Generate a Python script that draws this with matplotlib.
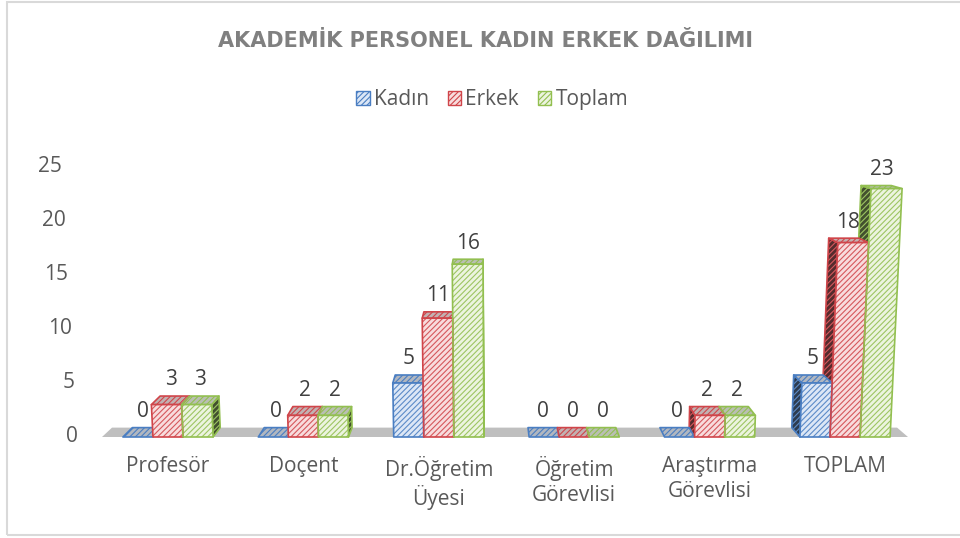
import matplotlib
matplotlib.use('Agg')
import matplotlib.pyplot as plt
from matplotlib.patches import Polygon, Rectangle, Patch
from matplotlib.colors import to_rgb

# ---------------- data ----------------
categories = ['Profesör', 'Doçent', 'Dr.Öğretim\nÜyesi', 'Öğretim\nGörevlisi',
              'Araştırma\nGörevlisi', 'TOPLAM']
series_names = ['Kadın', 'Erkek', 'Toplam']
kadin = [0, 0, 5, 0, 0, 5]
erkek = [3, 2, 11, 0, 2, 18]
toplam = [3, 2, 16, 0, 2, 23]
y_ticks = [0, 5, 10, 15, 20, 25]
title = 'AKADEMİK PERSONEL KADIN ERKEK DAĞILIMI'

series_values = [kadin, erkek, toplam]
colors = ['#4A7EC2', '#D0454A', '#92BF50']
fills = ['#DCE7F6', '#F8DCDD', '#ECF4DF']

plt.rcParams['font.family'] = ['Open Sans', 'DejaVu Sans']
plt.rcParams['hatch.linewidth'] = 0.8
HATCH = '//////'
FS = 15

W, H, DPI = 960, 538, 100
fig = plt.figure(figsize=(W / DPI, H / DPI), dpi=DPI)

# layout: data units mapped onto the figure pixels
X0_PX, SX = 168, 135.4      # category 0 at x=168px, 135.4 px per category
Y0_PX, SY = 437, 10.8       # value 0 at y=437px, 10.8 px per unit
ax = fig.add_axes([0, 0, 1, 1])
ax.set_xlim(-X0_PX / SX, (W - X0_PX) / SX)
ax.set_ylim(-(H - Y0_PX) / SY, Y0_PX / SY)
ax.axis('off')

# simple perspective (imitating Excel 3-D columns)
LEAN = 0.001426
XL = (524 - X0_PX) / SX
K = 0.026
XV = (487 - X0_PX) / SX
KY = 0.0255
YV = (Y0_PX - 69) / SY


def proj(x, y, z):
    xl = x + LEAN * (x - XL) * y
    return (xl + z * K * (XV - xl), y + z * KY * (YV - y))


def mix(c1, c2, t):
    a, b = to_rgb(c1), to_rgb(c2)
    return tuple(a[i] * (1 - t) + b[i] * t for i in range(3))


def face(pts, fill, hatch_col, edge, z, lw=1.2):
    ax.add_patch(Polygon(pts, closed=True, facecolor=fill, edgecolor=hatch_col,
                         hatch=HATCH, linewidth=0, zorder=z))
    ax.add_patch(Polygon(pts, closed=True, fill=False, edgecolor=edge,
                         linewidth=lw, zorder=z + 0.01, joinstyle='round'))


# floor
FL_A, FL_B = (102 - X0_PX) / SX, (908 - X0_PX) / SX
ax.add_patch(Polygon([proj(FL_A, 0, 0), proj(FL_B, 0, 0), proj(FL_B, 0, 1), proj(FL_A, 0, 1)],
                     closed=True, facecolor='#BFBFBF', edgecolor='none', zorder=1))

BW = 0.222
for i in range(len(categories)):
    for j, vals in enumerate(series_values):
        h = vals[i]
        c = colors[j]
        xa = i + (j - 1) * BW - BW / 2
        xb = xa + BW
        xc = (xa + xb) / 2
        # side face
        xs = xb if xc < XV else xa
        if h > 0:
            face([proj(xs, 0, 0), proj(xs, h, 0), proj(xs, h, 1), proj(xs, 0, 1)],
                 mix(c, '#202020', 0.7), mix(c, '#FFFFFF', 0.1), c, 2 + i * 0.01)
        # top face
        face([proj(xa, h, 0), proj(xb, h, 0), proj(xb, h, 1), proj(xa, h, 1)],
             mix(fills[j], '#707070', 0.4), c, c, 3 + i * 0.01)
        # front face
        if h > 0:
            face([proj(xa, 0, 0), proj(xb, 0, 0), proj(xb, h, 0), proj(xa, h, 0)],
                 fills[j], mix(c, '#FFFFFF', 0.1), c, 4 + i * 0.01)
        # data label
        xm, _ = proj(xc, h, 0.5)
        _, yt = proj(xc, h, 1)
        ax.annotate(str(h), (xm, yt), xytext=(0, 4), textcoords='offset points',
                    ha='center', va='bottom', fontsize=FS, color='#404040', zorder=10)

# value axis labels (follow the leaning back wall)
YLAB_X = (78 - X0_PX) / SX
for v in y_ticks:
    X, Y = proj(YLAB_X, v, 0)
    ax.text(X, Y, str(v), ha='right', va='center', fontsize=FS, color='#595959')

# category labels
CAT_Y = -1.8
for i, cat in enumerate(categories):
    ax.text(i, CAT_Y, cat, ha='center', va='top', fontsize=FS, color='#595959',
            linespacing=1.2)

# title
fig.text(486 / W, 1 - 41 / H, title, ha='center', va='center', fontsize=15,
         fontweight='bold', color='#808080', family=['DejaVu Sans'])

# legend
handles = [Patch(facecolor=fills[j], edgecolor=colors[j], hatch=HATCH, linewidth=1.0)
           for j in range(3)]
fig.legend(handles, series_names, loc='center', bbox_to_anchor=(492 / W, 1 - 100 / H),
           ncol=3, frameon=False, fontsize=FS, handlelength=0.65, handleheight=0.65,
           handletextpad=0.2, columnspacing=0.9, labelcolor='#595959')

# chart border
fig.add_artist(Rectangle((7 / W, 3 / H), 1.2, 1 - 5 / H, transform=fig.transFigure,
                         fill=False, edgecolor='#D9D9D9', linewidth=1.5))

fig.savefig('out.png', dpi=DPI)
